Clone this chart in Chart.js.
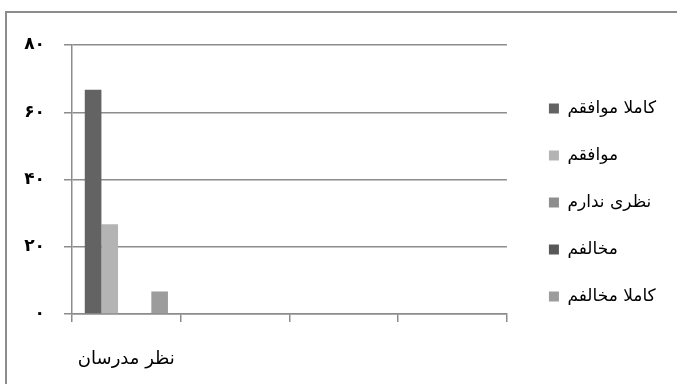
<!DOCTYPE html>
<html lang="fa">

<head>
  <meta charset="UTF-8">
  <title>نظر مدرسان</title>
  <style>
    body { margin: 0; background: #fff; }
    #frame {
      position: absolute; left: 5px; top: 11px; width: 700px; height: 400px;
      border: 2px solid #8c8c8c; box-sizing: border-box;
    }
    #wrap { position: absolute; left: 0; top: 0; width: 677px; height: 384px; }
  </style>
</head>

<body>
  <div id="frame"></div>
  <div id="wrap"><canvas id="myChart"></canvas></div>

  <script src="https://cdn.jsdelivr.net/npm/chart.js"></script>
  <script>
    // categories: only the first group has answers
    const categories = ['نظر مدرسان', '', '', ''];
    const yTicks = ['۰', '۲۰', '۴۰', '۶۰', '۸۰'];

    // percent of answers per option
    const kamelanMovafegh = [66.7, null, null, null];
    const movafegh = [26.7, null, null, null];
    const nazariNadaram = [0, null, null, null];
    const mokhalef = [0, null, null, null];
    const kamelanMokhalef = [6.7, null, null, null];

    const seriesNames = ['کاملا موافقم', 'موافقم', 'نظری ندارم', 'مخالفم', 'کاملا مخالفم'];
    const seriesColors = ['#636363', '#b4b4b4', '#8e8e8e', '#585858', '#9c9c9c'];
    const seriesData = [kamelanMovafegh, movafegh, nazariNadaram, mokhalef, kamelanMokhalef];

    const gridColor = '#8c8c8c';
    const font = "'DejaVu Sans', 'Noto Sans', sans-serif";

    const ctx = document.getElementById('myChart');
    const chart = new Chart(ctx, {
      type: 'bar',
      data: {
        labels: categories,
        datasets: seriesNames.map(function (name, i) {
          return {
            label: name,
            data: seriesData[i],
            backgroundColor: seriesColors[i],
            borderWidth: 0,
            categoryPercentage: 0.765,
            barPercentage: 1
          };
        })
      },
      options: {
        responsive: true,
        maintainAspectRatio: false,
        animation: false,
        layout: { padding: { top: 45, bottom: 0, left: 0, right: 11 } },
        plugins: {
          tooltip: { enabled: false },
          legend: {
            position: 'right',
            align: 'start',
            maxWidth: 200,
            // empty title only pushes the list down
            title: { display: true, text: '', font: { size: 10 }, padding: { top: 7, bottom: 6 } },
            labels: {
              boxWidth: 10,
              boxHeight: 10,
              padding: 30,
              color: '#000',
              font: { family: font, size: 17 }
            }
          }
        },
        scales: {
          x: {
            grid: {
              offset: true,
              drawOnChartArea: false,
              color: gridColor,
              lineWidth: 1.5,
              tickLength: 8
            },
            border: { color: gridColor, width: 1.5 },
            ticks: {
              color: '#000',
              padding: 27,
              maxRotation: 0,
              font: { family: font, size: 18 }
            },
            afterFit: function (scale) { scale.height = 70; }
          },
          y: {
            min: 0,
            max: 80,
            grid: {
              color: gridColor,
              lineWidth: 1.5,
              tickLength: 8
            },
            border: { color: gridColor, width: 1.5 },
            ticks: {
              stepSize: 20,
              color: '#000',
              padding: 19,
              font: { family: font, size: 17, weight: 'bold' },
              callback: function (value) { return yTicks[value / 20]; }
            },
            afterFit: function (scale) { scale.width = 72; }
          },
          // empty strip between plot and legend
          gap: {
            position: 'right',
            display: true,
            grid: { display: false },
            border: { display: false },
            ticks: { display: false },
            afterFit: function (scale) { scale.width = 12; }
          }
        }
      }
    });
  </script>
</body>

</html>
